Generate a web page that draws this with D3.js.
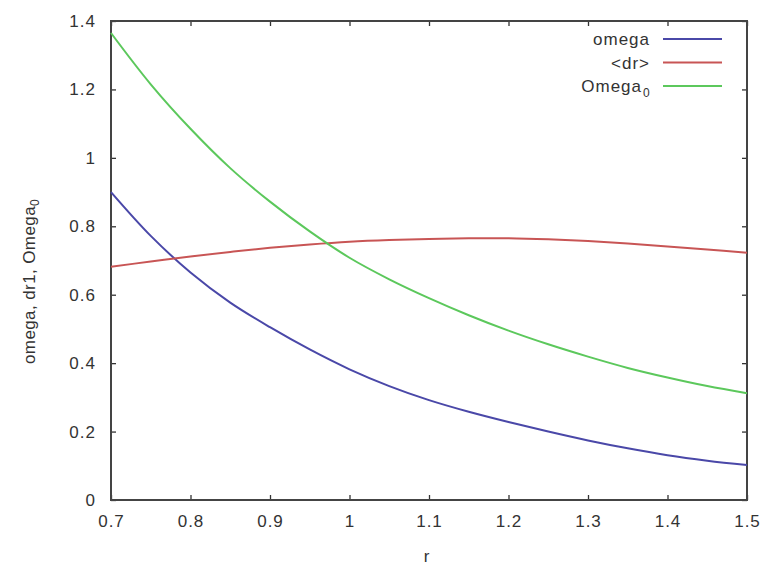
<!doctype html>
<html lang="en">
<head>
  <meta charset="utf-8">
  <title>omega, dr1, Omega0</title>
  <style>
    body { margin: 0; background: #fff; }
    text { font-family: "Liberation Sans", Arial, sans-serif; fill: #333; letter-spacing: 1px; }
  </style>
</head>
<body>
<div id="chart"></div>

<script src="https://cdnjs.cloudflare.com/ajax/libs/d3/7.8.5/d3.min.js"></script>
<script>

// data
const r = [0.70, 0.75, 0.80, 0.85, 0.90, 0.95, 1.00, 1.05, 1.10, 1.15, 1.20, 1.25, 1.30, 1.35, 1.40, 1.45, 1.50]
const omega = [0.900, 0.772, 0.665, 0.577, 0.505, 0.440, 0.382, 0.333, 0.292, 0.258, 0.228, 0.200, 0.174, 0.151, 0.131, 0.115, 0.102]
const dr = [0.682, 0.697, 0.712, 0.725, 0.737, 0.747, 0.755, 0.760, 0.763, 0.765, 0.765, 0.762, 0.757, 0.750, 0.741, 0.732, 0.723]
const Omega0 = [1.365, 1.215, 1.085, 0.970, 0.872, 0.785, 0.708, 0.645, 0.590, 0.540, 0.495, 0.455, 0.419, 0.386, 0.358, 0.333, 0.312]

const xTicks = [0.7, 0.8, 0.9, 1.0, 1.1, 1.2, 1.3, 1.4, 1.5]
const yTicks = [0, 0.2, 0.4, 0.6, 0.8, 1.0, 1.2, 1.4]

const series = [
  { name: "omega", values: omega, color: "#4a48a8" },
  { name: "<dr>", values: dr, color: "#c85555" },
  { name: "Omega", sub: "0", values: Omega0, color: "#5cc85c" }
]

const w = 770, h = 571
const margin = { top: 21, right: 23, bottom: 71, left: 111 }

const svg = d3.select("#chart").append("svg")
  .attr("width", w)
  .attr("height", h)

const x = d3.scaleLinear().domain([0.7, 1.5]).range([margin.left, w - margin.right])
const y = d3.scaleLinear().domain([0, 1.4]).range([h - margin.bottom, margin.top])

const fmt = d => String(+d.toFixed(1))

// ticks, inward on all four sides
const tickLen = 5
svg.append("g")
  .attr("transform", "translate(0," + y(0) + ")")
  .call(d3.axisBottom(x).tickValues(xTicks).tickSize(-tickLen).tickPadding(15).tickFormat(fmt))
svg.append("g")
  .attr("transform", "translate(0," + y(1.4) + ")")
  .call(d3.axisTop(x).tickValues(xTicks).tickSize(-tickLen).tickFormat(""))
svg.append("g")
  .attr("transform", "translate(" + x(0.7) + ",0)")
  .call(d3.axisLeft(y).tickValues(yTicks).tickSize(-tickLen).tickPadding(15).tickFormat(fmt))
svg.append("g")
  .attr("transform", "translate(" + x(1.5) + ",0)")
  .call(d3.axisRight(y).tickValues(yTicks).tickSize(-tickLen).tickFormat(""))

svg.selectAll(".domain").remove()
svg.selectAll(".tick line").attr("stroke", "#333").attr("stroke-width", 1.3)
svg.selectAll(".tick text").style("font-size", "17px").attr("fill", "#333")

// frame
svg.append("rect")
  .attr("x", x(0.7)).attr("y", y(1.4))
  .attr("width", x(1.5) - x(0.7)).attr("height", y(0) - y(1.4))
  .attr("fill", "none").attr("stroke", "#444").attr("stroke-width", 2)

// curves
const line = d3.line()
  .x((d, i) => x(r[i]))
  .y(d => y(d))
  .curve(d3.curveCatmullRom)

series.forEach(s => {
  svg.append("path")
    .datum(s.values)
    .attr("d", line)
    .attr("fill", "none")
    .attr("stroke", s.color)
    .attr("stroke-width", 2)
})

// legend
const legend = svg.append("g")
series.forEach((s, i) => {
  let yy = 39 + i * 23.5
  legend.append("text")
    .attr("x", s.sub ? 642 : 650)
    .attr("y", yy + 6)
    .attr("text-anchor", "end")
    .style("font-size", "17px")
    .text(s.name)
  if (s.sub) {
    legend.append("text")
      .attr("x", 643)
      .attr("y", yy + 11)
      .style("font-size", "12px")
      .text(s.sub)
  }
  legend.append("line")
    .attr("x1", 663).attr("x2", 722)
    .attr("y1", yy).attr("y2", yy)
    .attr("stroke", s.color)
    .attr("stroke-width", 2)
})

// axis titles
svg.append("text")
  .attr("x", x(1.1) - 2)
  .attr("y", 562)
  .attr("text-anchor", "middle")
  .style("font-size", "17px")
  .text("r")

const yl = svg.append("text")
  .attr("transform", "translate(35,364) rotate(-90)")
  .attr("text-anchor", "start")
  .style("font-size", "17px")
  .style("letter-spacing", "0.4px")
yl.append("tspan").text("omega, dr1, Omega")
yl.append("tspan").attr("dy", 4).style("font-size", "12px").text("0")

</script>
</body>
</html>
